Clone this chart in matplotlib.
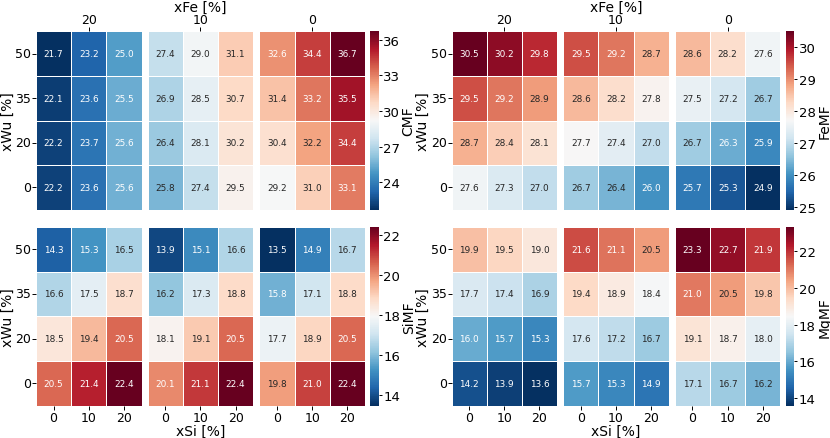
import matplotlib
matplotlib.use("Agg")
import matplotlib.pyplot as plt
import numpy as np
import seaborn as sns

#region data
xwu = ["50", "35", "20", "0"]   # rows, top to bottom
xsi = ["0", "10", "20"]         # columns inside each block
xfe = ["20", "10", "0"]         # blocks, left to right

cmf_fe20 = [[21.7, 23.2, 25.0], [22.1, 23.6, 25.5], [22.2, 23.7, 25.6], [22.2, 23.6, 25.6]]
cmf_fe10 = [[27.4, 29.0, 31.1], [26.9, 28.5, 30.7], [26.4, 28.1, 30.2], [25.8, 27.4, 29.5]]
cmf_fe0 = [[32.6, 34.4, 36.7], [31.4, 33.2, 35.5], [30.4, 32.2, 34.4], [29.2, 31.0, 33.1]]

femf_fe20 = [[30.5, 30.2, 29.8], [29.5, 29.2, 28.9], [28.7, 28.4, 28.1], [27.6, 27.3, 27.0]]
femf_fe10 = [[29.5, 29.2, 28.7], [28.6, 28.2, 27.8], [27.7, 27.4, 27.0], [26.7, 26.4, 26.0]]
femf_fe0 = [[28.6, 28.2, 27.6], [27.5, 27.2, 26.7], [26.7, 26.3, 25.9], [25.7, 25.3, 24.9]]

simf_fe20 = [[14.3, 15.3, 16.5], [16.6, 17.5, 18.7], [18.5, 19.4, 20.5], [20.5, 21.4, 22.4]]
simf_fe10 = [[13.9, 15.1, 16.6], [16.2, 17.3, 18.8], [18.1, 19.1, 20.5], [20.1, 21.1, 22.4]]
simf_fe0 = [[13.5, 14.9, 16.7], [15.8, 17.1, 18.8], [17.7, 18.9, 20.5], [19.8, 21.0, 22.4]]

mgmf_fe20 = [[19.9, 19.5, 19.0], [17.7, 17.4, 16.9], [16.0, 15.7, 15.3], [14.2, 13.9, 13.6]]
mgmf_fe10 = [[21.6, 21.1, 20.5], [19.4, 18.9, 18.4], [17.6, 17.2, 16.7], [15.7, 15.3, 14.9]]
mgmf_fe0 = [[23.3, 22.7, 21.9], [21.0, 20.5, 19.8], [19.1, 18.7, 18.0], [17.1, 16.7, 16.2]]

cmf_ticks = [24, 27, 30, 33, 36]
femf_ticks = [25, 26, 27, 28, 29, 30]
simf_ticks = [14, 16, 18, 20, 22]
mgmf_ticks = [14, 16, 18, 20, 22]
#endregion

W, H = 830, 439
fig = plt.figure(figsize=(W / 100, H / 100), dpi=100)

def px(x0, y0, w, h):
    # pixel box (from top-left) -> figure fraction rect
    return [x0 / W, 1 - (y0 + h) / H, w / W, h / H]

panels = [
    ("CMF", [cmf_fe20, cmf_fe10, cmf_fe0], cmf_ticks, 36, 32.3, True),
    ("FeMF", [femf_fe20, femf_fe10, femf_fe0], femf_ticks, 451.5, 32.3, True),
    ("SiMF", [simf_fe20, simf_fe10, simf_fe0], simf_ticks, 36, 228, False),
    ("MgMF", [mgmf_fe20, mgmf_fe10, mgmf_fe0], mgmf_ticks, 451.5, 228, False),
]

bw, gap, hh = 105.5, 6.2, 178.5
fs_tick, fs_lab, fs_cb = 9, 10, 9.5

for name, blocks, cticks, x0, y0, top in panels:
    allv = np.array(blocks)
    vmin, vmax = allv.min(), allv.max()
    cax = fig.add_axes(px(x0 + 3 * bw + 2 * gap + 5.5, y0, 8.5, hh))
    for k, blk in enumerate(blocks):
        ax = fig.add_axes(px(x0 + k * (bw + gap), y0, bw, hh))
        sns.heatmap(np.array(blk), ax=ax, cmap="RdBu_r", vmin=vmin, vmax=vmax,
                    annot=True, fmt=".1f", annot_kws={"size": 6.4},
                    linewidths=0.6, linecolor="white",
                    cbar=(k == 2), cbar_ax=cax if k == 2 else None)
        ax.tick_params(axis="y", length=2.6, pad=0.8, width=0.7)
        ax.tick_params(axis="x", length=2.6, pad=1.5 if not top else 1.0, width=0.7)
        ax.set_yticks(np.arange(len(xwu)) + 0.5)
        if k == 0:
            ax.set_yticklabels(xwu, rotation=0, fontsize=fs_tick)
            ax.set_ylabel("xWu [%]", fontsize=fs_lab)
            ax.yaxis.set_label_coords(-21.5 / bw, 0.5)
        else:
            ax.set_yticklabels([])
            ax.tick_params(axis="y", left=False)
            ax.set_ylabel("")
        if top:
            ax.xaxis.tick_top()
            ax.set_xticks([1.5])
            ax.set_xticklabels([xfe[k]], fontsize=fs_tick)
            if k == 1:
                ax.xaxis.set_label_position("top")
                ax.set_xlabel("xFe [%]", fontsize=fs_lab)
                ax.xaxis.set_label_coords(0.5, 1 + 20.0 / hh)
        else:
            ax.set_xticks(np.arange(len(xsi)) + 0.5)
            ax.set_xticklabels(xsi, rotation=0, fontsize=fs_tick)
            if k == 1:
                ax.set_xlabel("xSi [%]", fontsize=fs_lab)
                ax.xaxis.set_label_coords(0.5, -18.5 / hh)
    cax.set_yticks(cticks)
    cax.tick_params(labelsize=fs_cb, length=2.2, pad=1, width=0.7)
    cax.set_ylabel(name, fontsize=fs_lab, labelpad=1)

fig.savefig("out.png", dpi=100)
